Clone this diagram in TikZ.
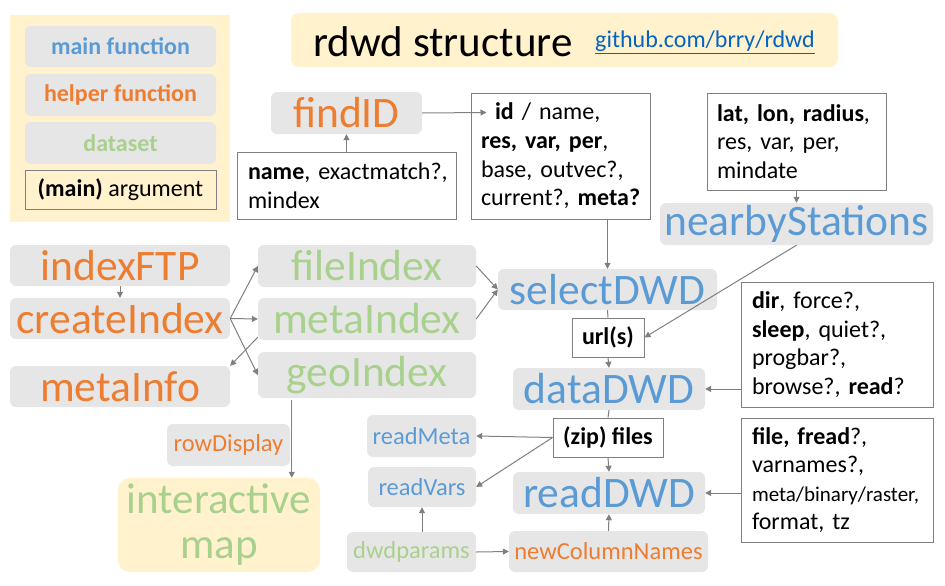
\documentclass[tikz,border=0pt]{standalone}
\usepackage{fontspec}
\setmainfont{Carlito}
\usetikzlibrary{arrows.meta,calc}
\definecolor{mblue}{HTML}{5B9BD5}
\definecolor{horange}{HTML}{ED7D31}
\definecolor{dgreen}{HTML}{A9D18E}
\definecolor{gfill}{HTML}{E7E6E6}
\definecolor{cream}{HTML}{FFF2CC}
\definecolor{lgrey}{HTML}{7F7F7F}
\definecolor{linkblue}{HTML}{0563C1}
\newcommand\mkbox[7]{\node[#6, minimum width={#4-#2}, minimum height={#5-#3}] (#1) at ({(#2+#4)/2},{(#3+#5)/2}) {#7};}
\newcommand\bigf{\fontsize{43.5}{48}\selectfont}
\newcommand\midf{\fontsize{24.5}{28}\selectfont}
\newcommand\argf{\fontsize{24}{28.6}\selectfont}
\newcommand\oneline[1]{\mbox{#1}}
\tikzset{
  gbox/.style={fill=gfill, rounded corners=6pt, inner sep=0pt},
  abox/.style={draw=lgrey, line width=1pt, fill=white, inner sep=0pt},
  atext/.style={abox, text width={#1}, align=left, font=\argf},
  conn/.style={draw=lgrey, line width=1pt},
  arr/.style={conn, -{Triangle[length=6pt,width=6pt]}},
}
\begin{document}
\begin{tikzpicture}[x=1pt,y=-1pt]
\useasboundingbox (0,0) rectangle (945,586);
% legend
\mkbox{legbg}{10}{15}{230}{222}{fill=cream, inner sep=0pt}{}
\mkbox{legmain}{25}{26}{216}{67}{gbox, font=\fontsize{24}{28}\selectfont\bfseries, text=mblue}{main function}
\mkbox{leghelp}{25}{74}{216}{116}{gbox, font=\fontsize{24}{28}\selectfont\bfseries, text=horange}{helper function}
\mkbox{legdata}{25}{122}{216}{164}{gbox, font=\fontsize{24}{28}\selectfont\bfseries, text=dgreen}{dataset}
\mkbox{legarg}{25}{170}{216}{209}{draw=lgrey, line width=1pt, inner sep=0pt, font=\fontsize{24}{28}\selectfont}{\textbf{(main)} argument}
% title
\mkbox{titlebg}{291}{13}{838}{67}{fill=cream, rounded corners=8pt, inner sep=0pt}{}
\node[font=\fontsize{43}{48}\selectfont, inner sep=0pt] (title) at (443,42) {rdwd structure};
\node[font=\fontsize{24}{28}\selectfont, text=linkblue, inner sep=0pt] (link) at (705,42) {\underline{github.com/brry/rdwd}};
% findID
\mkbox{findID}{271}{92}{422}{134}{gbox, font=\bigf, text=horange}{findID}
\mkbox{namebox}{237}{152}{456}{219}{atext={219-22}}{\oneline{\textbf{name}, exactmatch?,}\\\oneline{mindex}}
\mkbox{idbox}{471}{93}{650}{219}{atext={179-20}}{\oneline{\hspace*{14pt}\textbf{id} / name,}\\\oneline{\textbf{res, var, per},}\\\oneline{base, outvec?,}\\\oneline{current?, \textbf{meta?}}}
\mkbox{latbox}{707}{93}{886}{190}{atext={179-20}}{\oneline{\textbf{lat, lon, radius},}\\\oneline{res, var, per,}\\\oneline{mindate}}
\mkbox{nearby}{660}{203}{933}{245}{gbox, font=\bigf, text=mblue}{nearbyStations}
% index functions
\mkbox{indexFTP}{10}{245}{230}{286}{gbox, font=\bigf, text=horange}{indexFTP}
\mkbox{createIndex}{10}{298}{230}{339}{gbox, font=\bigf, text=horange}{createIndex}
\mkbox{metaInfo}{10}{366}{230}{407}{gbox, font=\bigf, text=horange}{metaInfo}
\mkbox{fileIndex}{258}{245}{476}{287}{gbox, font=\bigf, text=dgreen}{fileIndex}
\mkbox{metaIndex}{258}{298}{476}{340}{gbox, font=\bigf, text=dgreen}{metaIndex}
\mkbox{geoIndex}{258}{352}{476}{398}{gbox, font=\bigf, text=dgreen}{geoIndex}
\mkbox{rowDisplay}{167}{424}{290}{466}{gbox, font=\midf, text=horange}{rowDisplay}
\mkbox{imap}{118}{478}{320}{572}{fill=cream, rounded corners=12pt, inner sep=0pt, font=\fontsize{43}{45}\selectfont, text=dgreen, align=center}{interactive\\map}
\mkbox{readMeta}{367}{415}{476}{457}{gbox, font=\midf, text=mblue}{readMeta}
\mkbox{readVars}{368}{467}{476}{507}{gbox, font=\midf, text=mblue}{readVars}
\mkbox{dwdparams}{347}{532}{476}{572}{gbox, font=\midf, text=dgreen}{dwdparams}
% main chain
\mkbox{selectDWD}{498}{269}{717}{310}{gbox, font=\bigf, text=mblue}{selectDWD}
\mkbox{urls}{572}{318}{644}{357}{abox, font=\fontsize{24}{28}\selectfont\bfseries}{url(s)}
\mkbox{dataDWD}{513}{368}{705}{410}{gbox, font=\bigf, text=mblue}{dataDWD}
\mkbox{zipfiles}{553}{418}{663}{457}{abox, font=\fontsize{24}{28}\selectfont\bfseries}{(zip) files}
\mkbox{readDWD}{513}{472}{705}{514}{gbox, font=\bigf, text=mblue}{readDWD}
\mkbox{newCol}{509}{531}{708}{572}{gbox, font=\midf, text=horange}{newColumnNames}
\mkbox{dirbox}{741}{282}{933}{407}{atext={192-22}}{\oneline{\textbf{dir}, force?,}\\\oneline{\textbf{sleep}, quiet?,}\\\oneline{progbar?,}\\\oneline{browse?, \textbf{read}?}}
\mkbox{filebox}{741}{418}{933}{542}{atext={192-22}}{\oneline{\textbf{file, fread}?,}\\\oneline{varnames?,}\\\oneline{\fontsize{21}{28.6}\selectfont meta/binary/raster,}\\\oneline{format, tz}}
% connectors
\coordinate (idtip) at ($(idbox.north west)+(16,20)$);
\draw[arr] (findID.east) -- (idtip);
\draw[arr] (namebox.north) -- (findID.south);
\draw[arr] (latbox.south) -- (nearby.north);
\draw[arr] (indexFTP.south) -- (createIndex.north);
\draw[arr] (createIndex.east) -- (fileIndex.west);
\draw[arr] (createIndex.east) -- (metaIndex.west);
\draw[arr] (createIndex.east) -- (geoIndex.west);
\draw[arr] ($(metaIndex.south west)+(0,-3)$) -- (metaInfo.north east);
\draw[arr] (fileIndex.east) -- (selectDWD.west);
\draw[arr] (metaIndex.east) -- (selectDWD.west);
\draw[arr] (idbox.south -| selectDWD.north) -- (selectDWD.north);
\draw[arr] (nearby.south) -- (urls.east);
\draw[conn] (selectDWD.south) -- (urls.north);
\draw[arr] (urls.south) -- (dataDWD.north);
\draw[conn] (dataDWD.south) -- (zipfiles.north);
\draw[arr] (zipfiles.south) -- (readDWD.north);
\draw[arr] (zipfiles.west) -- (readMeta.east);
\draw[arr] (zipfiles.west) -- (readVars.east);
\draw[arr] (dataDWD.east -| dirbox.west) -- (dataDWD.east);
\draw[arr] (readDWD.east -| filebox.west) -- (readDWD.east);
\draw[arr] (newCol.north) -- (readDWD.south);
\draw[arr] (dwdparams.east) -- (newCol.west);
\draw[arr] (dwdparams.north -| readVars.south) -- (readVars.south);
\draw[arr] ($(geoIndex.south west)+(34,2)$) -- ($(imap.north west)+(174,0)$);
\end{tikzpicture}
\end{document}
